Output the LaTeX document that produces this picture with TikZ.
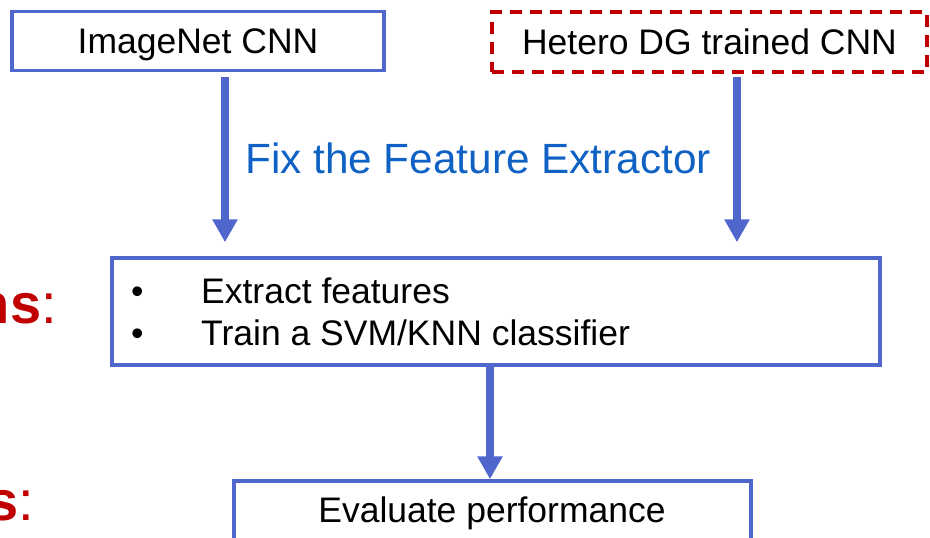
\documentclass[tikz,border=0pt]{standalone}
\usepackage{fontspec}
\setmainfont{Liberation Sans}
\usetikzlibrary{arrows.meta,calc}

\definecolor{boxblue}{HTML}{4F67CC}
\definecolor{capblue}{HTML}{0F62C4}
\definecolor{darkred}{HTML}{C00000}

\begin{document}
\begin{tikzpicture}[x=1pt,y=-1pt,
  lbl/.style={inner sep=0pt, font=\fontsize{35.5}{42}\selectfont},
  box/.style={draw=boxblue, line width=3.5pt, inner sep=0pt,
    text height=24pt, text depth=0pt, font=\fontsize{35.5}{42}\selectfont},
  dashbox/.style={box, draw=darkred, dash pattern=on 12pt off 8pt},
  arr/.style={draw=boxblue, line width=8.5pt,
    -{Triangle[width=24pt,length=23pt]}},
  side/.style={inner sep=0pt, text=darkred,
    font=\fontsize{56}{60}\selectfont\bfseries}
]
\useasboundingbox (0,0) rectangle (930,538);
\clip (0,0) rectangle (930,538);

% source networks
\node[box, minimum width=372pt, minimum height=59pt] (imagenet) at (198,41) {ImageNet CNN};
\node[dashbox, minimum width=435pt, minimum height=60pt] (hetero) at (709.5,42) {Hetero DG trained CNN};

% feature extraction step
\node[box, minimum width=768pt, minimum height=107pt] (mid) at (496,311.5) {};
\node[lbl, anchor=base west] (item1) at (131,303) {\makebox[70pt][l]{\textbullet}Extract features};
\node[lbl, anchor=base west] (item2) at (131,345) {\makebox[70pt][l]{\textbullet}Train a SVM/KNN classifier};

% evaluation step (runs past the lower edge)
\node[box, minimum width=517pt, minimum height=120pt] (eval) at (492.5,541) {};
\node[lbl, anchor=base] (evaltxt) at (492,522) {Evaluate performance};

% caption between the arrows
\node[lbl, anchor=base west, text=capblue, font=\fontsize{42.3}{48}\selectfont] (fix) at (245,173) {Fix the Feature Extractor};

% row headings cut by the left edge
\node[side, anchor=base east] (row1) at (57,323) {ns{\mdseries:}};
\node[side, anchor=base east] (row2) at (34,520) {s{\mdseries:}};

% connectors
\draw[arr] ($(imagenet.south)+(27,5)$) -- ($(imagenet.south |- mid.north)+(27,-14)$);
\draw[arr] ($(hetero.south)+(27.5,3)$) -- ($(hetero.south |- mid.north)+(27.5,-14)$);
\draw[arr] ($(mid.south)+(-6,-1.75)$) -- ($(eval.north)+(-2.5,0)$);
\end{tikzpicture}
\end{document}
